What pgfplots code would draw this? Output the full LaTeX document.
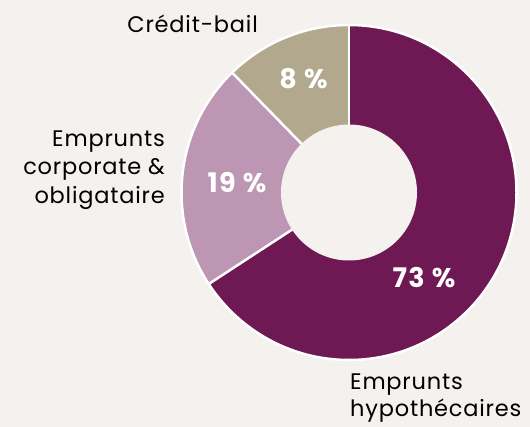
\documentclass[border=0pt]{standalone}
\usepackage{fontspec}
\setmainfont{Poppins}[LetterSpace=3.5]
\newfontfamily\pctfont{Poppins}[LetterSpace=5]
\usepackage{pgfplots}
\pgfplotsset{compat=1.18}
\usepackage{pgfplotstable}
\definecolor{bgc}{HTML}{F4F1EE}
\definecolor{cA}{HTML}{6E1854}
\definecolor{cB}{HTML}{BC96B2}
\definecolor{cC}{HTML}{B2A88D}

% shares as drawn (angular share of the ring) and printed percentages
\pgfplotstableread{
share pct
65.8 73
21.9 19
12.3 8
}\donut
\pgfplotstablegetelem{0}{share}\of\donut \let\sA\pgfplotsretval
\pgfplotstablegetelem{1}{share}\of\donut \let\sB\pgfplotsretval
\pgfplotstablegetelem{2}{share}\of\donut \let\sC\pgfplotsretval
\pgfplotstablegetelem{0}{pct}\of\donut \let\pA\pgfplotsretval
\pgfplotstablegetelem{1}{pct}\of\donut \let\pB\pgfplotsretval
\pgfplotstablegetelem{2}{pct}\of\donut \let\pC\pgfplotsretval
\pgfmathsetmacro\aA{90}
\pgfmathsetmacro\aB{90-3.6*\sA}
\pgfmathsetmacro\aC{\aB-3.6*\sB}
\pgfmathsetmacro\aD{\aC-3.6*\sC}
\def\cx{349}\def\cy{234.5}
\def\R{167.5pt}\def\r{68pt}

\begin{document}
\begin{tikzpicture}
\begin{axis}[
  scale only axis, width=530pt, height=427pt,
  xmin=0, xmax=530, ymin=0, ymax=427,
  hide axis, clip=false,
]
\fill[bgc] (axis cs:0,0) rectangle (axis cs:530,427);
% sectors
\fill[cA] (axis cs:\cx,\cy) -- ([shift={(\aA:\R)}]axis cs:\cx,\cy) arc[start angle=\aA, end angle=\aB, radius=\R] -- cycle;
\fill[cB] (axis cs:\cx,\cy) -- ([shift={(\aB:\R)}]axis cs:\cx,\cy) arc[start angle=\aB, end angle=\aC, radius=\R] -- cycle;
\fill[cC] (axis cs:\cx,\cy) -- ([shift={(\aC:\R)}]axis cs:\cx,\cy) arc[start angle=\aC, end angle=\aD, radius=\R] -- cycle;
% separators and outline
\draw[white, line width=2.5pt] (axis cs:\cx,\cy) -- ([shift={(\aA:\R)}]axis cs:\cx,\cy);
\draw[white, line width=2.5pt] (axis cs:\cx,\cy) -- ([shift={(\aB:\R)}]axis cs:\cx,\cy);
\draw[white, line width=2.5pt] (axis cs:\cx,\cy) -- ([shift={(\aC:\R)}]axis cs:\cx,\cy);
\draw[white, line width=2.5pt] (axis cs:\cx,\cy) circle[radius=\R];
\fill[bgc] (axis cs:\cx,\cy) circle[radius=\r];
% percentage labels
\node[white, font=\pctfont\fontsize{27}{30}\selectfont\bfseries] at (axis cs:424,149) {\pA{} \%};
\node[white, font=\pctfont\fontsize{27}{30}\selectfont\bfseries] at (axis cs:237,244) {\pB{} \%};
\node[white, font=\pctfont\fontsize{27}{30}\selectfont\bfseries] at (axis cs:303.5,348) {\pC{} \%};
% category labels
\node[anchor=base east, inner sep=0pt, font=\fontsize{22.5}{26}\selectfont] at (axis cs:258,394) {Crédit-bail};
\node[anchor=base east, inner sep=0pt, font=\fontsize{22.5}{26}\selectfont] at (axis cs:165,280.3) {Emprunts};
\node[anchor=base east, inner sep=0pt, font=\fontsize{22.5}{26}\selectfont] at (axis cs:165,252) {corporate \&};
\node[anchor=base east, inner sep=0pt, font=\fontsize{22.5}{26}\selectfont] at (axis cs:165,223) {obligataire};
\node[anchor=base west, inner sep=0pt, font=\fontsize{22.5}{26}\selectfont] at (axis cs:350,37) {Emprunts};
\node[anchor=base west, inner sep=0pt, font=\fontsize{22.5}{26}\selectfont] at (axis cs:350,10) {hypothécaires};
\end{axis}
\end{tikzpicture}
\end{document}
